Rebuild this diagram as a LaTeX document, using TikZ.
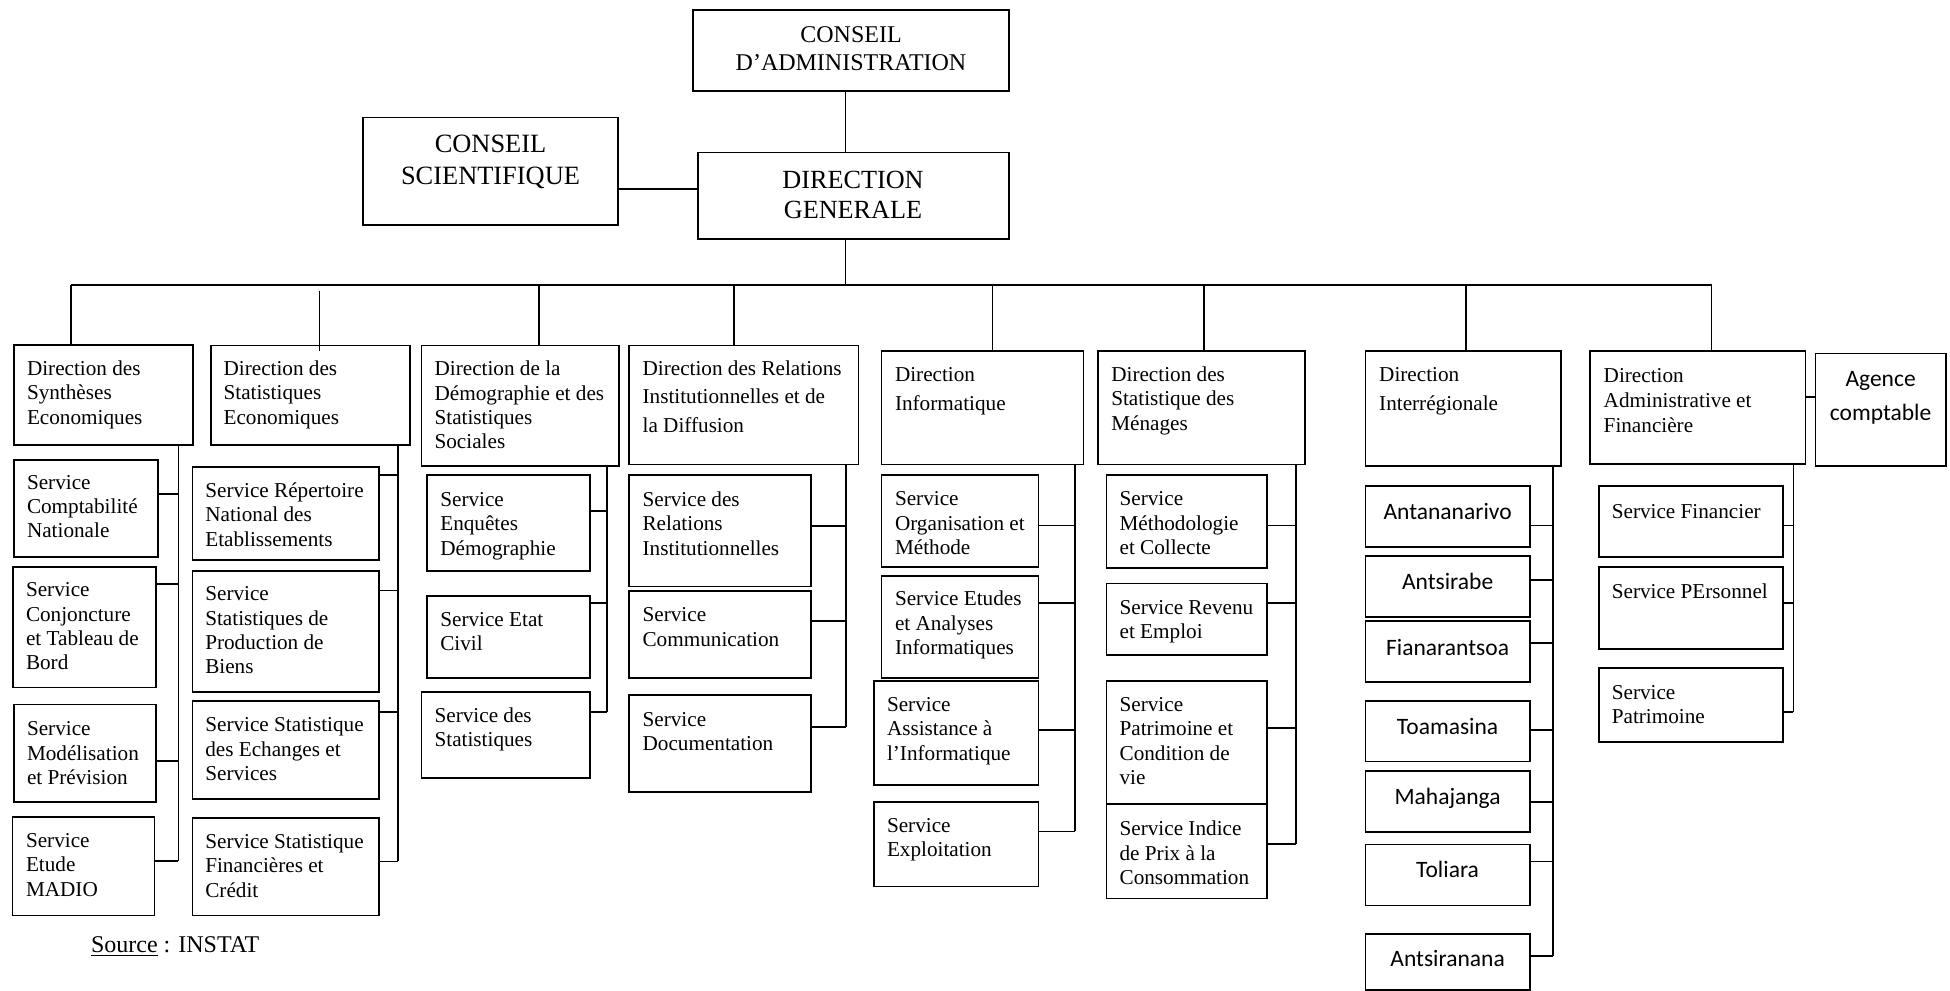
\documentclass[tikz,border=0pt]{standalone}
\usepackage{fontspec}
\setmainfont{Liberation Serif}
\newfontfamily\calfont{Carlito}
\usetikzlibrary{fit}
% multi-line text blocks, baseline on the first line
\newcommand\lft[1]{\begin{tabular}[t]{@{}l@{}}#1\end{tabular}}
\newcommand\ctr[1]{\begin{tabular}[t]{@{}c@{}}#1\end{tabular}}
\newcommand\bodyfont{\fontsize{10.6}{12.2}\selectfont}
% framed cell: name, x1, y1, x2, y2
\newcommand\orgbox[5]{\node[orgcell, fit={(#2,#3)(#4,#5)}] (#1) {};}
% cell text: name, x, first baseline, lines
\newcommand\celltxt[4]{\node[celltext, anchor=base west] (#1) at (#2,#3) {\lft{#4}};}
% branch from a cell to its trunk: cell, point name, trunk x, y
\newcommand\conn[4]{\coordinate (#2) at (#3,#4); \draw (#1.east |- #2) -- (#2);}
\tikzset{
  orgcell/.style={draw, inner sep=0pt},
  celltext/.style={inner sep=0pt, font=\bodyfont},
  citytext/.style={inner sep=0pt, anchor=base, font=\calfont\fontsize{11.75}{16.75}\selectfont}
}
\begin{document}
\begin{tikzpicture}[x=0.5pt, y=-0.5pt, line width=0.8pt]
\useasboundingbox (0,0) rectangle (1950,991);

% ---- top management ----
\orgbox{ca}{693}{10}{1009}{91}
\node[inner sep=0pt, anchor=base, font=\fontsize{12}{13.65}\selectfont] (cat) at (851,42.7) {\ctr{CONSEIL\\D’ADMINISTRATION}};
\orgbox{cs}{363}{117.5}{618}{225}
\node[inner sep=0pt, anchor=base, font=\fontsize{13.2}{15.65}\selectfont] (cst) at (490.5,152.7) {\ctr{CONSEIL\\SCIENTIFIQUE}};
\orgbox{dg}{698}{152.5}{1008.7}{239}
\node[inner sep=0pt, anchor=base, font=\fontsize{13.1}{15}\selectfont] (dgt) at (853,188.3) {\ctr{DIRECTION\\GENERALE}};

\coordinate (dgbus) at (845.6,285);
\draw (ca.south -| dgbus) -- (dg.north -| dgbus);
\draw (dg.south -| dgbus) -- (dgbus);
\coordinate (csdg) at (650,189);
\draw (cs.east |- csdg) -- (dg.west |- csdg);

% ---- directions ----
\orgbox{d1}{14}{345}{192.8}{445}
\celltxt{d1t}{26.2}{375.5}{Direction des\\Synthèses\\Economiques}
\orgbox{d2}{211}{345.3}{410.2}{445}
\celltxt{d2t}{222.8}{375.5}{Direction des\\Statistiques\\Economiques}
\orgbox{d3}{421.3}{345.3}{618.7}{466}
\celltxt{d3t}{433.8}{375.7}{Direction de la\\Démographie et des\\Statistiques\\Sociales}
\orgbox{d4}{629}{345.3}{858.3}{464.3}
\node[inner sep=0pt, anchor=base west, font=\fontsize{10.6}{14.15}\selectfont] (d4t) at (641.8,375.5) {\lft{Direction des Relations\\Institutionnelles et de\\la Diffusion}};
\orgbox{d5}{881.3}{350.7}{1083.3}{464.3}
\node[inner sep=0pt, anchor=base west, font=\fontsize{10.6}{14.5}\selectfont] (d5t) at (894.2,381.5) {\lft{Direction\\Informatique}};
\orgbox{d6}{1098}{350.7}{1304.7}{464.3}
\celltxt{d6t}{1110.5}{381.5}{Direction des\\Statistique des\\Ménages}
\orgbox{d7}{1365.3}{350.7}{1561}{466}
\node[inner sep=0pt, anchor=base west, font=\fontsize{10.6}{14.65}\selectfont] (d7t) at (1378.4,381.5) {\lft{Direction\\Interrégionale}};
\orgbox{d8}{1590.2}{350.7}{1805.4}{464}
\node[inner sep=0pt, anchor=base west, font=\fontsize{10.6}{12.5}\selectfont] (d8t) at (1602.9,382) {\lft{Direction\\Administrative et\\Financière}};
\orgbox{ag}{1815.5}{353.3}{1945.8}{466}
\node[citytext] (agt) at (1880.6,386.7) {\ctr{Agence\\comptable}};

% ---- bus and drops ----
\coordinate (t1) at (70.9,285);
\coordinate (t3) at (538.8,285);
\coordinate (t4) at (733.7,285);
\coordinate (t5) at (992.5,285);
\coordinate (t6) at (1204,285);
\coordinate (t7) at (1466,285);
\coordinate (t8) at (1711.5,285);
\coordinate (t2a) at (319.6,290.7);
\coordinate (t2b) at (319.6,351);
\draw (t1) -- (t8);
\draw (t1) -- (d1.north -| t1);
\draw (t2a) -- (t2b);
\draw (t3) -- (d3.north -| t3);
\draw (t4) -- (d4.north -| t4);
\draw (t5) -- (d5.north -| t5);
\draw (t6) -- (d6.north -| t6);
\draw (t7) -- (d7.north -| t7);
\draw (t8) -- (d8.north -| t8);
\coordinate (kag) at (1810,396.7);
\draw (d8.east |- kag) -- (ag.west |- kag);

% ---- Synthèses Economiques ----
\orgbox{s11}{14}{459.7}{157.7}{557}
\celltxt{s11t}{26.2}{489}{Service\\Comptabilité\\Nationale}
\orgbox{s12}{12.7}{566.7}{156}{687.3}
\celltxt{s12t}{25.2}{596.7}{Service\\Conjoncture\\et Tableau de\\Bord}
\orgbox{s13}{14}{704.3}{156}{802}
\celltxt{s13t}{26.2}{735.7}{Service\\Modélisation\\et Prévision}
\orgbox{s14}{12.3}{816.7}{154.3}{915.3}
\celltxt{s14t}{25.2}{847.3}{Service\\Etude\\MADIO}
\conn{s11}{k11}{178.3}{493.7}
\conn{s12}{k12}{178.3}{583.7}
\conn{s13}{k13}{178.3}{761}
\conn{s14}{k14}{178.3}{861}
\draw (d1.south -| k11) -- (k14);

% ---- Statistiques Economiques ----
\orgbox{s21}{192.3}{466.7}{378.7}{560}
\celltxt{s21t}{204.5}{497.3}{Service Répertoire\\National des\\Etablissements}
\orgbox{s22}{192.3}{570.7}{378.7}{692}
\celltxt{s22t}{204.5}{600.7}{Service\\Statistiques de\\Production de\\Biens}
\orgbox{s23}{192.3}{701}{378.7}{798.7}
\celltxt{s23t}{204.5}{731.7}{Service Statistique\\des Echanges et\\Services}
\orgbox{s24}{192.3}{817.7}{378.7}{915.3}
\celltxt{s24t}{204.5}{848.3}{Service Statistique\\Financières et\\Crédit}
\conn{s21}{k21}{397.7}{474.7}
\conn{s22}{k22}{397.7}{590.3}
\conn{s23}{k23}{397.7}{712}
\conn{s24}{k24}{397.7}{861.3}
\draw (d2.south -| k21) -- (k24);

% ---- Démographie et Statistiques Sociales ----
\orgbox{s31}{427}{475}{590}{571}
\celltxt{s31t}{439.5}{506.3}{Service\\Enquêtes\\Démographie}
\orgbox{s32}{427}{596}{590}{677.7}
\celltxt{s32t}{439.5}{626.3}{Service Etat\\Civil}
\orgbox{s33}{421.3}{692}{590}{777.7}
\celltxt{s33t}{433.8}{722.3}{Service des\\Statistiques}
\conn{s31}{k31}{606.7}{510.7}
\conn{s32}{k32}{606.7}{602.7}
\conn{s33}{k33}{606.7}{711.7}
\draw (d3.south -| k31) -- (k33);

% ---- Relations Institutionnelles et Diffusion ----
\orgbox{s41}{629}{475}{810.7}{586.3}
\celltxt{s41t}{641.8}{506.3}{Service des\\Relations\\Institutionnelles}
\orgbox{s42}{629}{590.7}{810.7}{677.7}
\celltxt{s42t}{641.8}{621.7}{Service\\Communication}
\orgbox{s43}{629}{695}{810.7}{791.7}
\celltxt{s43t}{641.8}{726.3}{Service\\Documentation}
\conn{s41}{k41}{845.7}{525.7}
\conn{s42}{k42}{845.7}{621}
\conn{s43}{k43}{845.7}{727}
\draw (d4.south -| k41) -- (k43);

% ---- Informatique ----
\orgbox{s51}{881.3}{475}{1038.3}{566.7}
\celltxt{s51t}{894.2}{505.7}{Service\\Organisation et\\Méthode}
\orgbox{s52}{881.3}{575.7}{1038.3}{677.7}
\celltxt{s52t}{894.2}{605.7}{Service Etudes\\et Analyses\\Informatiques}
\orgbox{s53}{874}{681}{1038.3}{784.7}
\celltxt{s53t}{886.2}{711.3}{Service\\Assistance à\\l’Informatique}
\orgbox{s54}{874}{802}{1038.3}{886.3}
\celltxt{s54t}{886.2}{832.3}{Service\\Exploitation}
\conn{s51}{k51}{1074.7}{525.3}
\conn{s52}{k52}{1074.7}{602.7}
\conn{s53}{k53}{1074.7}{730}
\conn{s54}{k54}{1074.7}{831.3}
\draw (d5.south -| k51) -- (k54);

% ---- Statistique des Ménages ----
\orgbox{s61}{1106.3}{475}{1266.7}{567.7}
\celltxt{s61t}{1118.8}{505.7}{Service\\Méthodologie\\et Collecte}
\orgbox{s62}{1106.3}{583.3}{1266.7}{654.7}
\celltxt{s62t}{1118.8}{614}{Service Revenu\\et Emploi}
\orgbox{s63}{1106.3}{681}{1266.7}{804}
\celltxt{s63t}{1118.8}{711.3}{Service\\Patrimoine et\\Condition de\\vie}
\orgbox{s64}{1106.3}{804}{1266.7}{898.3}
\celltxt{s64t}{1118.8}{835.7}{Service Indice\\de Prix à la\\Consommation}
\conn{s61}{k61}{1296}{525.3}
\conn{s62}{k62}{1296}{602.7}
\conn{s63}{k63}{1296}{727.7}
\conn{s64}{k64}{1296}{844}
\draw (d6.south -| k61) -- (k64);

% ---- Interrégionale ----
\orgbox{c1}{1365.3}{486}{1529.9}{546.7}
\node[citytext] (c1t) at (1447.6,519.3) {Antananarivo};
\orgbox{c2}{1365.3}{556}{1529.9}{616.7}
\node[citytext] (c2t) at (1447.6,589.3) {Antsirabe};
\orgbox{c3}{1365.3}{620.7}{1529.9}{681.7}
\node[citytext] (c3t) at (1447.6,655.7) {Fianarantsoa};
\orgbox{c4}{1365.3}{701}{1529.9}{761.3}
\node[citytext] (c4t) at (1447.6,734) {Toamasina};
\orgbox{c5}{1365.3}{771}{1529.9}{831.7}
\node[citytext] (c5t) at (1447.6,804) {Mahajanga};
\orgbox{c6}{1365.3}{844.3}{1529.9}{905.3}
\node[citytext] (c6t) at (1447.6,877.3) {Toliara};
\orgbox{c7}{1365.3}{934}{1529.9}{990}
\node[citytext] (c7t) at (1447.6,966.7) {Antsiranana};
\conn{c1}{k71}{1553.2}{525.3}
\conn{c2}{k72}{1553.2}{580}
\conn{c3}{k73}{1553.2}{643}
\conn{c4}{k74}{1553.2}{730}
\conn{c5}{k75}{1553.2}{802}
\conn{c6}{k76}{1553.2}{861.3}
\conn{c7}{k77}{1553.2}{955.7}
\draw (d7.south -| k71) -- (k77);

% ---- Administrative et Financière ----
\orgbox{s81}{1599.1}{486}{1782.8}{557}
\celltxt{s81t}{1611}{518}{Service Financier}
\orgbox{s82}{1599.1}{566.7}{1782.8}{648.7}
\celltxt{s82t}{1611}{598}{Service PErsonnel}
\orgbox{s83}{1599.1}{667.7}{1782.8}{741.7}
\celltxt{s83t}{1611}{699}{Service\\Patrimoine}
\conn{s81}{k81}{1793.3}{525.3}
\conn{s82}{k82}{1793.3}{602.7}
\conn{s83}{k83}{1793.3}{711.7}
\draw (d8.south -| k81) -- (k83);

% ---- source ----
\node[inner sep=0pt, anchor=base west, font=\fontsize{12}{14}\selectfont] (src) at (90.3,952.7) {\underline{Source} : INSTAT};
\end{tikzpicture}
\end{document}
